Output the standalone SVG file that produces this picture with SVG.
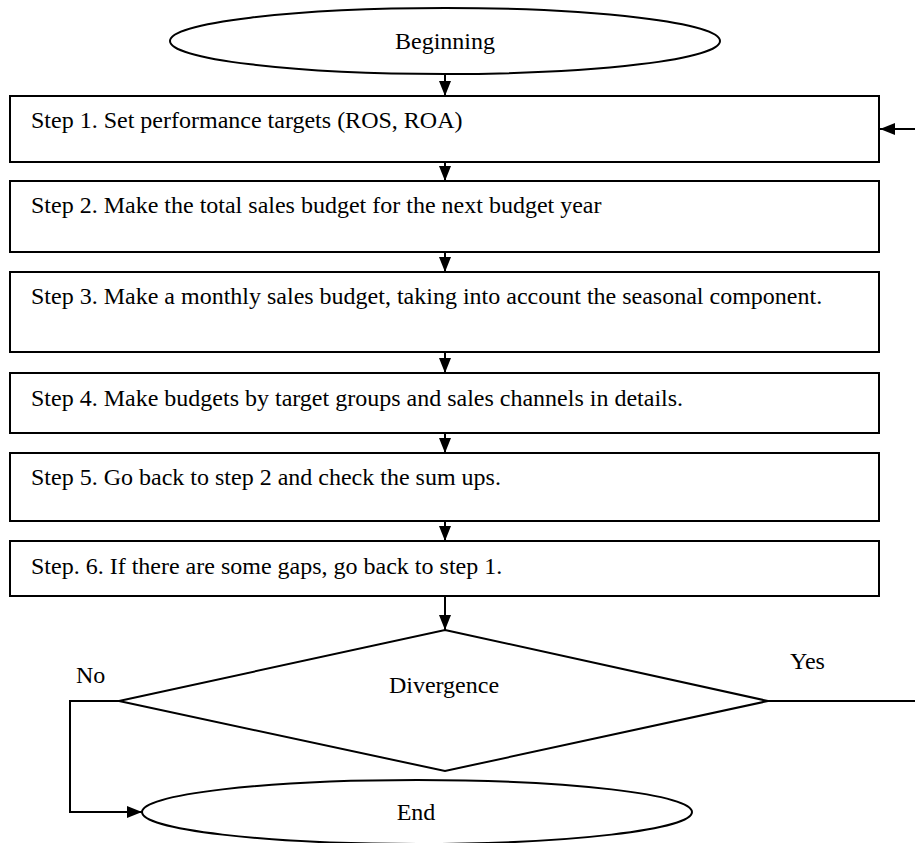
<svg xmlns="http://www.w3.org/2000/svg" width="915" height="843" viewBox="0 0 915 843">
<style>
  .shape { fill: #fff; stroke: #000; stroke-width: 2; }
  .line { fill: none; stroke: #000; stroke-width: 2; }
  .arr { marker-end: url(#ah); }
  text { font-family: "Liberation Serif", "Times New Roman", serif; font-size: 24px; fill: #000; }
  .c { text-anchor: middle; }
</style>
<defs>
  <marker id="ah" markerUnits="userSpaceOnUse" markerWidth="15" markerHeight="12" refX="15" refY="6" orient="auto">
    <path d="M0,0 L15,6 L0,12 z" fill="#000"/>
  </marker>
</defs>
<rect width="915" height="843" fill="#fff"/>
<g id="connectors">
  <line class="line arr" x1="445" y1="74" x2="445" y2="96"/>
  <line class="line arr" x1="445" y1="162" x2="445" y2="181"/>
  <line class="line arr" x1="445" y1="252" x2="445" y2="272"/>
  <line class="line arr" x1="445" y1="352" x2="445" y2="373"/>
  <line class="line arr" x1="445" y1="433" x2="445" y2="453"/>
  <line class="line arr" x1="445" y1="521" x2="445" y2="541"/>
  <line class="line arr" x1="445" y1="596" x2="445" y2="630"/>
  <polyline class="line arr" points="119,701 70,701 70,812 142,812"/>
  <line class="line" x1="768" y1="701" x2="915" y2="701"/>
  <line class="line arr" x1="915" y1="129" x2="880" y2="129"/>
  <text x="76" y="683">No</text>
  <text x="790" y="669">Yes</text>
</g>
<g id="beginning">
  <ellipse class="shape" cx="445" cy="41" rx="275" ry="33"/>
  <text class="c" x="445" y="49">Beginning</text>
</g>
<g id="step1">
  <rect class="shape" x="10" y="96" width="869" height="66"/>
  <text x="31" y="128">Step 1. Set performance targets (ROS, ROA)</text>
</g>
<g id="step2">
  <rect class="shape" x="10" y="181" width="869" height="71"/>
  <text x="31" y="213">Step 2. Make the total sales budget for the next budget year</text>
</g>
<g id="step3">
  <rect class="shape" x="10" y="272" width="869" height="80"/>
  <text x="31" y="304">Step 3. Make a monthly sales budget, taking into account the seasonal component.</text>
</g>
<g id="step4">
  <rect class="shape" x="10" y="373" width="869" height="60"/>
  <text x="31" y="406">Step 4. Make budgets by target groups and sales channels in details.</text>
</g>
<g id="step5">
  <rect class="shape" x="10" y="453" width="869" height="68"/>
  <text x="31" y="485">Step 5. Go back to step 2 and check the sum ups.</text>
</g>
<g id="step6">
  <rect class="shape" x="10" y="541" width="869" height="55"/>
  <text x="31" y="574">Step. 6. If there are some gaps, go back to step 1.</text>
</g>
<g id="divergence">
  <polygon class="shape" points="445,630 768,701 445,771 119,701"/>
  <text class="c" x="444" y="693">Divergence</text>
</g>
<g id="end">
  <ellipse class="shape" cx="417" cy="812" rx="275" ry="32"/>
  <text class="c" x="416" y="820">End</text>
</g>
</svg>
